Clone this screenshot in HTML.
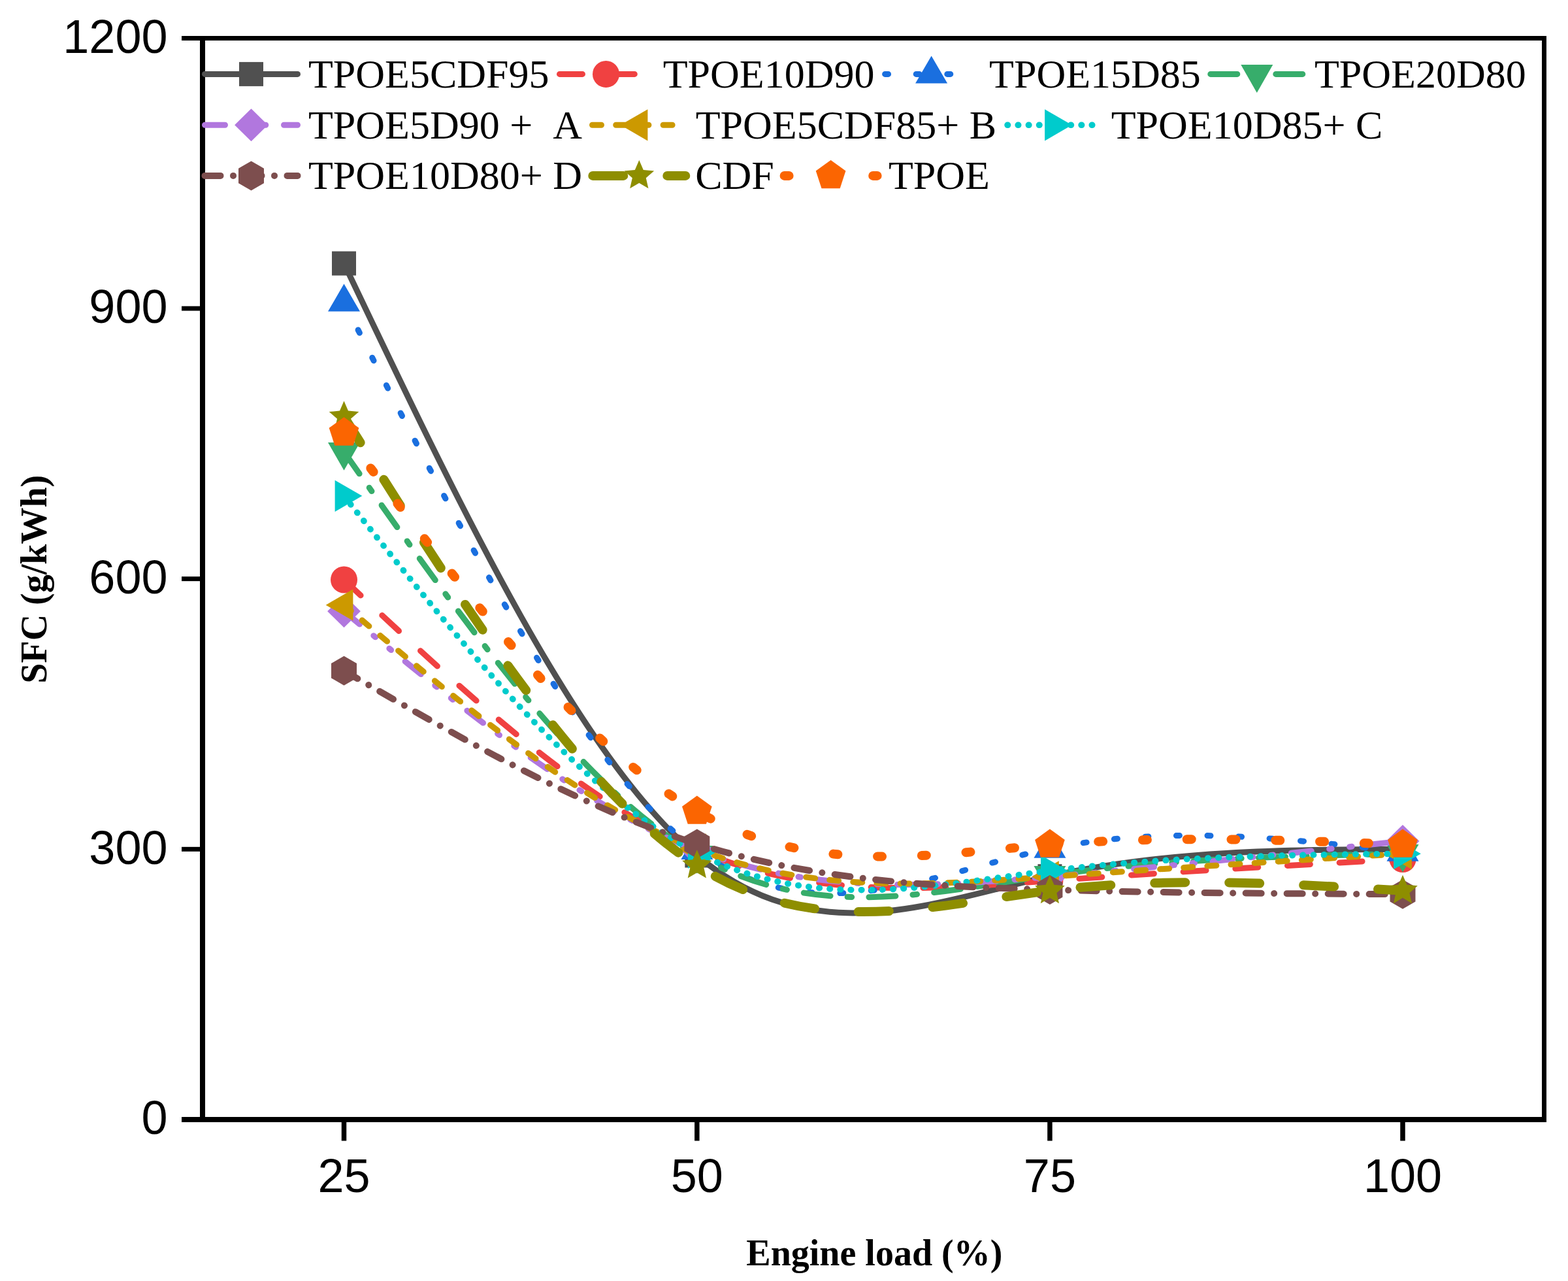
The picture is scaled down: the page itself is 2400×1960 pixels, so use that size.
<!DOCTYPE html>
<html><head><meta charset="utf-8"><title>SFC vs Engine load</title>
<style>
html,body{margin:0;padding:0;background:#fff;overflow:hidden;}
svg{display:block;}
.tl{font-family:"Liberation Sans",Arial,sans-serif;font-size:72px;fill:#000;}
.lg{font-family:"Liberation Serif","Times New Roman",serif;font-size:62px;fill:#000;}
.at{font-family:"Liberation Serif","Times New Roman",serif;font-size:56px;font-weight:bold;fill:#000;}
</style></head><body>
<svg width="2400" height="1960" viewBox="0 0 2400 1960">
<rect width="2400" height="1960" fill="#fff"/>
<rect x="306" y="55" width="8" height="1662" fill="#000"/>
<rect x="2360" y="55" width="7" height="1662" fill="#000"/>
<rect x="278" y="55" width="2089" height="7" fill="#000"/>
<rect x="278" y="1709" width="2089" height="8" fill="#000"/>
<rect x="278" y="1295.82" width="30" height="7" fill="#000"/>
<rect x="278" y="882.15" width="30" height="7" fill="#000"/>
<rect x="278" y="468.47" width="30" height="7" fill="#000"/>
<rect x="522.75" y="1712" width="7.5" height="33.5" fill="#000"/>
<rect x="1063.08" y="1712" width="7.5" height="33.5" fill="#000"/>
<rect x="1603.17" y="1712" width="7.5" height="33.5" fill="#000"/>
<rect x="2143.25" y="1712" width="7.5" height="33.5" fill="#000"/>
<text x="256.5" y="1735.30" class="tl" text-anchor="end">0</text>
<text x="256.5" y="1321.62" class="tl" text-anchor="end">300</text>
<text x="256.5" y="907.95" class="tl" text-anchor="end">600</text>
<text x="256.5" y="494.27" class="tl" text-anchor="end">900</text>
<text x="256.5" y="80.60" class="tl" text-anchor="end">1200</text>
<text x="526.50" y="1824.1" class="tl" text-anchor="middle">25</text>
<text x="1066.83" y="1824.1" class="tl" text-anchor="middle">50</text>
<text x="1606.92" y="1824.1" class="tl" text-anchor="middle">75</text>
<text x="2147.00" y="1824.1" class="tl" text-anchor="middle">100</text>
<text x="1142.3" y="1935.9" class="at">Engine load (%)</text>
<text transform="translate(70.5,1045.7) rotate(-90)" class="at">SFC (g/kWh)</text>
<path d="M526.50,403.03 C706.56,781.10 886.61,1159.16 1066.67,1308.98 C1246.72,1458.79 1426.78,1380.34 1606.83,1340.69 C1786.89,1301.04 1966.94,1300.18 2147.00,1299.32" fill="none" stroke="#505050" stroke-width="9" stroke-linecap="round" stroke-linejoin="round"/>
<rect x="508.00" y="384.53" width="37" height="37" fill="#505050"/>
<rect x="1048.33" y="1290.48" width="37" height="37" fill="#505050"/>
<rect x="1588.42" y="1322.19" width="37" height="37" fill="#505050"/>
<rect x="2128.50" y="1280.82" width="37" height="37" fill="#505050"/>
<path d="M526.50,887.03 C706.56,1055.75 886.61,1224.46 1066.67,1300.70 C1246.72,1376.94 1426.78,1360.70 1606.83,1347.59 C1786.89,1334.47 1966.94,1324.48 2147.00,1314.49" fill="none" stroke="#F04141" stroke-width="9" stroke-linecap="round" stroke-linejoin="round" stroke-dasharray="35 44.8"/>
<circle cx="526.50" cy="887.03" r="20.5" fill="#F04141"/>
<circle cx="1066.83" cy="1300.70" r="20.5" fill="#F04141"/>
<circle cx="1606.92" cy="1347.59" r="20.5" fill="#F04141"/>
<circle cx="2147.00" cy="1314.49" r="20.5" fill="#F04141"/>
<path d="M526.50,462.32 C706.56,816.64 886.61,1170.96 1066.67,1300.70 C1246.72,1430.44 1426.78,1335.60 1606.83,1298.63 C1786.89,1261.66 1966.94,1282.56 2147.00,1303.46" fill="none" stroke="#1A6FDF" stroke-width="9" stroke-linecap="round" stroke-linejoin="round" stroke-dasharray="5 42.6"/>
<path d="M526.50,434.32 L551.00,476.52 L502.00,476.52Z" fill="#1A6FDF"/>
<path d="M1066.83,1272.70 L1091.33,1314.90 L1042.33,1314.90Z" fill="#1A6FDF"/>
<path d="M1606.92,1270.63 L1631.42,1312.83 L1582.42,1312.83Z" fill="#1A6FDF"/>
<path d="M2147.00,1275.46 L2171.50,1317.66 L2122.50,1317.66Z" fill="#1A6FDF"/>
<path d="M526.50,691.22 C706.56,947.58 886.61,1203.93 1066.67,1308.29 C1246.72,1412.64 1426.78,1364.99 1606.83,1339.31 C1786.89,1313.63 1966.94,1309.93 2147.00,1306.22" fill="none" stroke="#37AD6B" stroke-width="9" stroke-linecap="round" stroke-linejoin="round" stroke-dasharray="41 26.2 6.5 26.3"/>
<path d="M526.50,719.72 L551.00,676.92 L502.00,676.92Z" fill="#37AD6B"/>
<path d="M1066.83,1336.79 L1091.33,1293.99 L1042.33,1293.99Z" fill="#37AD6B"/>
<path d="M1606.92,1367.81 L1631.42,1325.01 L1582.42,1325.01Z" fill="#37AD6B"/>
<path d="M2147.00,1334.72 L2171.50,1291.92 L2122.50,1291.92Z" fill="#37AD6B"/>
<path d="M526.50,935.29 C706.56,1083.84 886.61,1232.40 1066.67,1300.70 C1246.72,1369.01 1426.78,1357.05 1606.83,1341.38 C1786.89,1325.71 1966.94,1306.31 2147.00,1286.91" fill="none" stroke="#B177DE" stroke-width="9" stroke-linecap="round" stroke-linejoin="round" stroke-dasharray="31 27.7 3.5 27.6 3.5 27.7"/>
<path d="M526.50,910.29 L551.90,935.29 L526.50,960.29 L501.10,935.29Z" fill="#B177DE"/>
<path d="M1066.83,1275.70 L1092.23,1300.70 L1066.83,1325.70 L1041.43,1300.70Z" fill="#B177DE"/>
<path d="M1606.92,1316.38 L1632.32,1341.38 L1606.92,1366.38 L1581.52,1341.38Z" fill="#B177DE"/>
<path d="M2147.00,1261.91 L2172.40,1286.91 L2147.00,1311.91 L2121.60,1286.91Z" fill="#B177DE"/>
<path d="M526.50,925.64 C706.56,1077.96 886.61,1230.29 1066.67,1299.32 C1246.72,1368.36 1426.78,1354.11 1606.83,1341.38 C1786.89,1328.65 1966.94,1317.43 2147.00,1306.22" fill="none" stroke="#CC9900" stroke-width="9" stroke-linecap="round" stroke-linejoin="round" stroke-dasharray="14 22.2"/>
<path d="M498.70,925.64 L540.40,901.54 L540.40,949.74Z" fill="#CC9900"/>
<path d="M1039.03,1299.32 L1080.73,1275.22 L1080.73,1323.42Z" fill="#CC9900"/>
<path d="M1579.12,1341.38 L1620.82,1317.28 L1620.82,1365.48Z" fill="#CC9900"/>
<path d="M2119.20,1306.22 L2160.90,1282.12 L2160.90,1330.32Z" fill="#CC9900"/>
<path d="M526.50,758.79 C706.56,985.70 886.61,1212.61 1066.67,1304.84 C1246.72,1397.07 1426.78,1354.63 1606.83,1332.42 C1786.89,1310.20 1966.94,1308.21 2147.00,1306.22" fill="none" stroke="#00CBCC" stroke-width="9.5" stroke-linecap="round" stroke-linejoin="round" stroke-dasharray="0.6 15.55"/>
<path d="M554.30,758.79 L512.60,734.69 L512.60,782.89Z" fill="#00CBCC"/>
<path d="M1094.63,1304.84 L1052.93,1280.74 L1052.93,1328.94Z" fill="#00CBCC"/>
<path d="M1634.72,1332.42 L1593.02,1308.32 L1593.02,1356.52Z" fill="#00CBCC"/>
<path d="M2174.80,1306.22 L2133.10,1282.12 L2133.10,1330.32Z" fill="#00CBCC"/>
<path d="M526.50,1026.30 C706.56,1130.42 886.61,1234.55 1066.67,1291.05 C1246.72,1347.56 1426.78,1356.44 1606.83,1361.38 C1786.89,1366.31 1966.94,1367.29 2147.00,1368.27" fill="none" stroke="#7D4E4E" stroke-width="10" stroke-linecap="round" stroke-linejoin="round" stroke-dasharray="24 19.5 0.01 19.5"/>
<path d="M526.50,1003.80 L545.99,1015.05 L545.99,1037.55 L526.50,1048.80 L507.01,1037.55 L507.01,1015.05Z" fill="#7D4E4E"/>
<path d="M1066.83,1268.55 L1086.32,1279.80 L1086.32,1302.30 L1066.83,1313.55 L1047.34,1302.30 L1047.34,1279.80Z" fill="#7D4E4E"/>
<path d="M1606.92,1338.88 L1626.41,1350.13 L1626.41,1372.63 L1606.92,1383.88 L1587.43,1372.63 L1587.43,1350.13Z" fill="#7D4E4E"/>
<path d="M2147.00,1345.77 L2166.49,1357.02 L2166.49,1379.52 L2147.00,1390.77 L2127.51,1379.52 L2127.51,1357.02Z" fill="#7D4E4E"/>
<path d="M526.50,637.44 C706.56,923.09 886.61,1208.74 1066.67,1324.14 C1246.72,1439.54 1426.78,1384.69 1606.83,1362.75 C1786.89,1340.81 1966.94,1351.78 2147.00,1362.75" fill="none" stroke="#8E8E00" stroke-width="14" stroke-linecap="round" stroke-linejoin="round" stroke-dasharray="47 67"/>
<path d="M526.50,613.44 L532.97,628.54 L549.33,630.03 L536.96,640.84 L540.61,656.86 L526.50,648.44 L512.39,656.86 L516.04,640.84 L503.67,630.03 L520.03,628.54Z" fill="#8E8E00"/>
<path d="M1066.83,1300.14 L1073.30,1315.25 L1089.66,1316.73 L1077.29,1327.54 L1080.94,1343.56 L1066.83,1335.14 L1052.72,1343.56 L1056.37,1327.54 L1044.00,1316.73 L1060.36,1315.25Z" fill="#8E8E00"/>
<path d="M1606.92,1338.75 L1613.39,1353.86 L1629.75,1355.34 L1617.38,1366.15 L1621.03,1382.17 L1606.92,1373.75 L1592.81,1382.17 L1596.46,1366.15 L1584.09,1355.34 L1600.45,1353.86Z" fill="#8E8E00"/>
<path d="M2147.00,1338.75 L2153.47,1353.86 L2169.83,1355.34 L2157.46,1366.15 L2161.11,1382.17 L2147.00,1373.75 L2132.89,1382.17 L2136.54,1366.15 L2124.17,1355.34 L2140.53,1353.86Z" fill="#8E8E00"/>
<path d="M526.50,662.26 C706.56,901.12 886.61,1139.98 1066.67,1241.41 C1246.72,1342.84 1426.78,1306.83 1606.83,1292.43 C1786.89,1278.03 1966.94,1285.23 2147.00,1292.43" fill="none" stroke="#FB6501" stroke-width="14" stroke-linecap="round" stroke-linejoin="round" stroke-dasharray="7 60.8"/>
<path d="M526.50,638.26 L549.33,654.85 L540.61,681.68 L512.39,681.68 L503.67,654.85Z" fill="#FB6501"/>
<path d="M1066.83,1217.41 L1089.66,1233.99 L1080.94,1260.83 L1052.72,1260.83 L1044.00,1233.99Z" fill="#FB6501"/>
<path d="M1606.92,1268.43 L1629.75,1285.01 L1621.03,1311.85 L1592.81,1311.85 L1584.09,1285.01Z" fill="#FB6501"/>
<path d="M2147.00,1268.43 L2169.83,1285.01 L2161.11,1311.85 L2132.89,1311.85 L2124.17,1285.01Z" fill="#FB6501"/>
<path d="M313.50,113.40 H455.50" fill="none" stroke="#505050" stroke-width="9" stroke-linecap="round"/>
<rect x="366.00" y="94.90" width="37" height="37" fill="#505050"/>
<text x="471.90" y="133.70" class="lg">TPOE5CDF95</text>
<path d="M856.50,113.40 H998.50" fill="none" stroke="#F04141" stroke-width="9" stroke-linecap="round" stroke-dasharray="35 44.8"/>
<circle cx="927.50" cy="113.40" r="20.5" fill="#F04141"/>
<text x="1014.70" y="133.70" class="lg">TPOE10D90</text>
<path d="M1354.60,113.40 H1496.60" fill="none" stroke="#1A6FDF" stroke-width="9" stroke-linecap="round" stroke-dasharray="5 42.6"/>
<path d="M1425.60,85.40 L1450.10,127.60 L1401.10,127.60Z" fill="#1A6FDF"/>
<text x="1514.10" y="133.70" class="lg">TPOE15D85</text>
<path d="M1852.80,113.40 H1994.80" fill="none" stroke="#37AD6B" stroke-width="9" stroke-linecap="round" stroke-dasharray="41 26.2 6.5 26.3"/>
<path d="M1923.80,141.90 L1948.30,99.10 L1899.30,99.10Z" fill="#37AD6B"/>
<text x="2011.90" y="133.70" class="lg">TPOE20D80</text>
<path d="M313.50,191.30 H455.50" fill="none" stroke="#B177DE" stroke-width="9" stroke-linecap="round" stroke-dasharray="31 27.7 3.5 27.6 3.5 27.7"/>
<path d="M384.50,166.30 L409.90,191.30 L384.50,216.30 L359.10,191.30Z" fill="#B177DE"/>
<text x="471.90" y="211.60" class="lg">TPOE5D90&#160;+&#160;&#160;A</text>
<path d="M906.50,191.30 H1048.50" fill="none" stroke="#CC9900" stroke-width="9" stroke-linecap="round" stroke-dasharray="14 22.2"/>
<path d="M949.70,191.30 L991.40,167.20 L991.40,215.40Z" fill="#CC9900"/>
<text x="1064.70" y="211.60" class="lg">TPOE5CDF85+&#160;B</text>
<path d="M1542.00,191.30 H1684.00" fill="none" stroke="#00CBCC" stroke-width="9.5" stroke-linecap="round" stroke-dasharray="0.6 15.55"/>
<path d="M1640.80,191.30 L1599.10,167.20 L1599.10,215.40Z" fill="#00CBCC"/>
<text x="1700.70" y="211.60" class="lg">TPOE10D85+&#160;C</text>
<path d="M313.50,268.90 H455.50" fill="none" stroke="#7D4E4E" stroke-width="10" stroke-linecap="round" stroke-dasharray="24 19.5 0.01 19.5"/>
<path d="M384.50,246.40 L403.99,257.65 L403.99,280.15 L384.50,291.40 L365.01,280.15 L365.01,257.65Z" fill="#7D4E4E"/>
<text x="471.90" y="289.20" class="lg">TPOE10D80+&#160;D</text>
<path d="M907.30,268.90 H1049.30" fill="none" stroke="#8E8E00" stroke-width="14" stroke-linecap="round" stroke-dasharray="47 67"/>
<path d="M978.30,244.90 L984.77,260.00 L1001.13,261.48 L988.76,272.30 L992.41,288.32 L978.30,279.90 L964.19,288.32 L967.84,272.30 L955.47,261.48 L971.83,260.00Z" fill="#8E8E00"/>
<text x="1064.20" y="289.20" class="lg">CDF</text>
<path d="M1200.60,268.90 H1342.60" fill="none" stroke="#FB6501" stroke-width="14" stroke-linecap="round" stroke-dasharray="7 60.8"/>
<path d="M1271.60,244.90 L1294.43,261.48 L1285.71,288.32 L1257.49,288.32 L1248.77,261.48Z" fill="#FB6501"/>
<text x="1359.90" y="289.20" class="lg">TPOE</text>
</svg>
</body></html>
